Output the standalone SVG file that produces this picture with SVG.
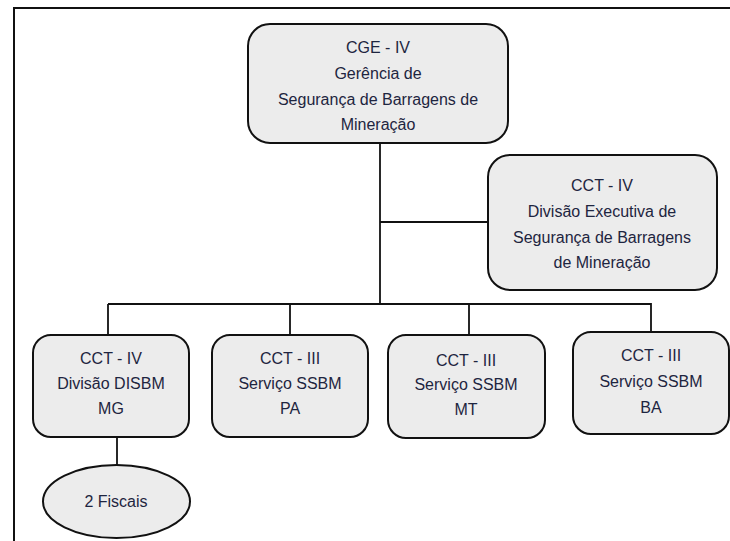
<svg xmlns="http://www.w3.org/2000/svg" width="730" height="541" viewBox="0 0 730 541">
<style>
.box{fill:#ececec;stroke:#111;stroke-width:2}
.ln{fill:none;stroke:#111;stroke-width:1.8}
text{font-family:"Liberation Sans",Arial,sans-serif;font-size:16px;fill:#1e2540;text-anchor:middle}
</style>
<rect width="730" height="541" fill="#fff"/>
<path d="M14,541 V8 H730" fill="none" stroke="#111" stroke-width="2"/>
<g id="connectors">
<path class="ln" d="M380,143 V304"/>
<path class="ln" d="M380,222 H488"/>
<path class="ln" d="M108,304 H651 V332"/>
<path class="ln" d="M108,304 V335"/>
<path class="ln" d="M290,304 V335"/>
<path class="ln" d="M469,304 V335"/>
<path class="ln" d="M117,437 V465"/>
</g>
<g id="cge">
<rect class="box" x="248" y="24" width="260" height="119" rx="22"/>
<text x="378" y="53">CGE - IV</text>
<text x="378" y="79">Gerência de</text>
<text x="378" y="105">Segurança de Barragens de</text>
<text x="378" y="130">Mineração</text>
</g>
<g id="cct-exec">
<rect class="box" x="488" y="155" width="229" height="135" rx="22"/>
<text x="602" y="191">CCT - IV</text>
<text x="602" y="217">Divisão Executiva de</text>
<text x="602" y="243">Segurança de Barragens</text>
<text x="602" y="268">de Mineração</text>
</g>
<g id="mg">
<rect class="box" x="33" y="335" width="156" height="102" rx="18"/>
<text x="111" y="364">CCT - IV</text>
<text x="111" y="389">Divisão DISBM</text>
<text x="111" y="414">MG</text>
</g>
<g id="pa">
<rect class="box" x="212" y="335" width="156" height="102" rx="18"/>
<text x="290" y="364">CCT - III</text>
<text x="290" y="389">Serviço SSBM</text>
<text x="290" y="414">PA</text>
</g>
<g id="mt">
<rect class="box" x="388" y="335" width="157" height="103" rx="18"/>
<text x="466" y="366">CCT - III</text>
<text x="466" y="390">Serviço SSBM</text>
<text x="466" y="415">MT</text>
</g>
<g id="ba">
<rect class="box" x="573" y="332" width="156" height="102" rx="18"/>
<text x="651" y="361">CCT - III</text>
<text x="651" y="387">Serviço SSBM</text>
<text x="651" y="413">BA</text>
</g>
<g id="fiscais">
<ellipse class="box" cx="116.5" cy="501.5" rx="73.5" ry="36.5"/>
<text x="116" y="507">2 Fiscais</text>
</g>
</svg>
